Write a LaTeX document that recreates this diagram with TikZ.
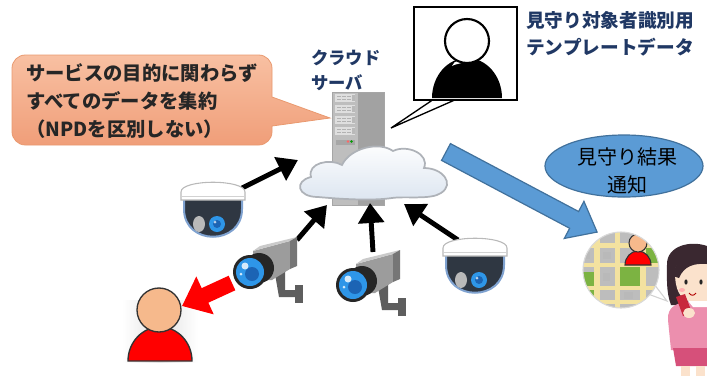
\documentclass[tikz,border=0pt]{standalone}
\usepackage{fontspec}
\newfontfamily\jp{Noto Sans CJK JP}
\usetikzlibrary{arrows.meta,shapes.geometric}

\definecolor{navy}{HTML}{203864}
\definecolor{inktext}{HTML}{262626}
\definecolor{calltop}{HTML}{F8C0A2}
\definecolor{callbot}{HTML}{F09E79}
\definecolor{callline}{HTML}{E9996F}
\definecolor{notice}{HTML}{5B9BD5}
\definecolor{noticeline}{HTML}{41719C}
\definecolor{srvfront}{HTML}{BEBEBE}
\definecolor{srvside}{HTML}{A2A2A2}
\definecolor{cloudline}{HTML}{AEB2B8}
\definecolor{cloudlow}{HTML}{DCE5F0}
\definecolor{domedark}{HTML}{2F3742}
\definecolor{domerim}{HTML}{7FA2D0}
\definecolor{lensblue}{HTML}{2E96E8}
\definecolor{lensdeep}{HTML}{1C64B4}
\definecolor{bodylight}{HTML}{CACACA}
\definecolor{bodymid}{HTML}{9C9C9C}
\definecolor{bodydark}{HTML}{767676}
\definecolor{barrel}{HTML}{262626}
\definecolor{mount}{HTML}{5E5E5E}
\definecolor{peach}{HTML}{F6B98C}
\definecolor{mapgray}{HTML}{BDBDBD}
\definecolor{mapgreen}{HTML}{7CB342}
\definecolor{road}{HTML}{F3E2A0}
\definecolor{hair}{HTML}{3A2830}
\definecolor{skin}{HTML}{FBE2CC}
\definecolor{sweater}{HTML}{EC8FAE}
\definecolor{skirt}{HTML}{D6507A}
\definecolor{phone}{HTML}{C8283C}

\tikzset{
  calltext/.style={font=\jp\bfseries\fontsize{14.5}{20.8}\selectfont, text=inktext, align=left, inner sep=0pt},
  labeltext/.style={font=\jp\bfseries\fontsize{14}{20.25}\selectfont, text=navy, align=left, inner sep=0pt},
  servertext/.style={font=\jp\bfseries\fontsize{13}{18.75}\selectfont, text=navy, align=left, inner sep=0pt},
  noticetext/.style={font=\jp\fontsize{15}{21}\selectfont, text=black, align=center, inner sep=0pt},
  feed/.style={line width=3.7pt, black, -{Triangle[width=19pt,length=15pt]}},
  alert/.style={line width=12pt, red, -{Triangle[width=30pt,length=19pt]}},
  domecam/.pic={
    % dome
    \path[fill=domedark, draw=domerim, line width=1.5pt]
      (-29,-12) -- (-29,0) .. controls (-29,37) and (29,37) .. (29,0) -- (29,-12) -- cycle;
    % lid
    \path[fill=white, draw=gray!55, line width=0.8pt]
      (-32,-9) -- (-32,-17) .. controls (-32,-30) and (32,-30) .. (32,-17) -- (32,-9) -- cycle;
    \draw[gray!35, line width=0.6pt] (-31,-13) -- (31,-13);
    \fill[gray!55] (-14,15) ellipse[x radius=6, y radius=8];
    \fill[lensblue] (4,15) circle[radius=8];
    \fill[lensdeep] (4,15) circle[radius=4];
    \fill[white, opacity=0.7] (2,13) circle[radius=1.5];
  },
  bulletcam/.pic={
    % wall mount
    \fill[mount] (45,13) rectangle (53,31);
    \fill[mount] (25,2) -- (35,-3) -- (35,18) -- (46,18) -- (46,25) -- (29,25) -- cycle;
    % housing
    \fill[bodymid] (3,-21) -- (40,-31) -- (40,-3) -- (22,8) -- (4,9) -- cycle;
    \fill[bodylight] (3,-21) -- (10,-26) -- (47,-35) -- (40,-31) -- cycle;
    \fill[bodydark] (40,-31) -- (47,-35) -- (47,-6) -- (40,-3) -- cycle;
    % lens barrel and glass
    \fill[barrel] (9,-4) circle[radius=15];
    \fill[barrel] (0,0) circle[radius=17];
    \fill[lensblue] (0,0) circle[radius=14];
    \fill[lensdeep] (2,2) circle[radius=7];
    \fill[white, opacity=0.8] (-5,-6) circle[radius=3.5];
    \fill[white, opacity=0.8] (-9,2) circle[radius=1.5];
  }
}

\begin{document}
\begin{tikzpicture}[x=0.75pt, y=-0.75pt]
\useasboundingbox (0,0) rectangle (707,376);
\fill[white] (0,0) rectangle (707,376);

% speech balloon on the left
\path[top color=calltop, bottom color=callbot, draw=callline, line width=0.6pt]
  [rounded corners=10pt] (140,55) -- (272,55) [sharp corners] -- (272,97) -- (330,118) -- (272,126)
  [rounded corners=10pt] -- (272,145) -- (12,145) -- (12,55) -- cycle;
\node[calltext, anchor=west] (reqtext) at (26,101)
  {サービスの目的に関わらず\\すべてのデータを集約\\（NPDを区別しない）};

% server label
\node[servertext, anchor=west] (srvlabel) at (311,70) {クラウド\\サーバ};

% server tower
\fill[srvside] (358,92) rectangle (384,205);
\fill[srvfront] (332,92) rectangle (358,205);
\draw[gray!70, line width=0.5pt] (332,92) rectangle (384,205);
\foreach \y in {94,105,116,127} {
  \fill[gray!25] (335,\y) rectangle (355,\y+8);
  \foreach \x in {337,342,347} \fill[gray!60] (\x,\y+2) rectangle (\x+4,\y+3.2);
  \foreach \x in {337,342,347} \fill[gray!60] (\x,\y+5) rectangle (\x+4,\y+6.2);
  \fill[gray!55] (352,\y+1) rectangle (354.5,\y+7);
}
\fill[gray!70] (336,140) rectangle (355,145);
\fill[red!60] (348,141.5) circle[radius=1.3];
\fill[green!60!black] (351.5,141.5) circle[radius=1.3];

% template image with its pointer
\filldraw[fill=white, draw=black, line width=1pt] (434,99) -- (391,128) -- (457,99);
\node[draw=black, line width=1.5pt, fill=white, minimum width=77.25pt, minimum height=69.75pt, inner sep=0pt]
  (template) at (465.5,53.5) {};
\fill[black] (432,98) arc[start angle=180, end angle=360, x radius=35, y radius=40] -- cycle;
\fill[white] (452,66) .. controls (454,60) and (462,59) .. (464,62) .. controls (460,64) and (455,64) .. cycle;
\draw[black, line width=1.6pt, fill=white] (467,41) circle[radius=22];
\node[labeltext, anchor=west] (tpllabel) at (526,34) {見守り対象者識別用\\テンプレートデータ};

% cloud
\path[top color=white, bottom color=cloudlow, draw=cloudline, line width=1.3pt]
  (318,197) .. controls (297,197) and (294,181) .. (311,177)
  .. controls (307,163) and (330,158) .. (342,165)
  .. controls (350,148) and (379,141) .. (393,151)
  .. controls (407,144) and (430,154) .. (424,168)
  .. controls (443,168) and (455,184) .. (441,193)
  .. controls (431,200) and (405,196) .. (392,198)
  .. controls (372,201) and (340,199) .. (318,197) -- cycle;
\coordinate (cloud) at (372,178);

% uploads from the cameras to the cloud
\coordinate (dome1top) at (242,188);
\coordinate (cloudW) at (298,160);
\coordinate (cam1top) at (297,240);
\coordinate (cloudSW) at (327,205);
\coordinate (cam2top) at (373,252);
\coordinate (cloudS) at (370,203);
\coordinate (dome2top) at (458,240);
\coordinate (cloudSE) at (404,204);
\draw[feed] (dome1top) -- (cloudW);
\draw[feed] (cam1top) -- (cloudSW);
\draw[feed] (cam2top) -- (cloudS);
\draw[feed] (dome2top) -- (cloudSE);

% cameras
\pic (dome1) at (213,209) {domecam};
\pic (dome2) at (475,265) {domecam};
\pic (cam1) at (250,272) {bulletcam};
\pic (cam2) at (353,285) {bulletcam};

% person being watched
\shade[left color=white, right color=white, middle color=gray!22] (122,300) rectangle (198,362);
\draw[fill=red, draw=black!80, line width=1pt]
  (128,361) arc[start angle=180, end angle=360, x radius=32, y radius=34] -- cycle;
\draw[fill=peach, draw=black!80, line width=1pt] (159,310) circle[radius=22];

% camera looking at the person
\coordinate (alertfrom) at (232,283);
\coordinate (alertto) at (182,306);
\draw[alert] (alertfrom) -- (alertto);

% notification arrow
\coordinate (notifyfrom) at (446,152);
\coordinate (notifyto) at (597,232);
\begin{scope}[shift={(notifyfrom)}, rotate=-27.92]
  \filldraw[fill=notice, draw=noticeline, line width=0.9pt]
    (0,-9.5) -- (145,-9.5) -- (145,-21) -- (171,0) -- (145,21) -- (145,9.5) -- (0,9.5) -- cycle;
\end{scope}

% notification label
\node[ellipse, fill=notice, draw=noticeline, line width=0.9pt, minimum width=118.5pt, minimum height=46.5pt, inner sep=0pt]
  (notice) at (624,166) {};
\node[noticetext] (noticelabel) at (627,171) {見守り結果\\通知};

% map balloon
\fill[white] (648,294) -- (667,301) -- (654,284) -- cycle;
\draw[gray!35, line width=0.8pt] (648,294) -- (667,301) -- (654,284);
\begin{scope}
  \clip (621,270) circle[radius=38];
  \fill[mapgray] (580,228) rectangle (662,312);
  \fill[mapgreen] (620,267) rectangle (640,286);
  \fill[mapgreen] (580,272) rectangle (594,300);
  \fill[mapgreen] (646,248) rectangle (662,263);
  \fill[gray!55] (603,252) rectangle (611,259);
  \fill[gray!55] (603,273) rectangle (610,281);
  \fill[gray!55] (624,292) rectangle (633,299);
  \fill[gray!55] (584,252) rectangle (590,259);
  \fill[gray!55] (650,292) rectangle (658,299);
  \fill[road] (594,228) rectangle (600,312);
  \fill[road] (615,228) rectangle (620,312);
  \fill[road] (640,228) rectangle (646,312);
  \fill[road] (580,243) rectangle (662,248);
  \fill[road] (580,263) rectangle (662,267);
  \fill[road] (580,286) rectangle (662,290);
  \fill[road] (580,300) rectangle (662,304);
  \draw[fill=red, draw=black!80, line width=0.8pt]
    (625,265) arc[start angle=180, end angle=360, x radius=13, y radius=14] -- cycle;
  \draw[fill=peach, draw=black!80, line width=0.8pt] (638,243) circle[radius=9];
\end{scope}
\draw[gray!30, line width=0.8pt] (621,270) circle[radius=38];

% person checking the phone
\fill[hair] (667,264) .. controls (667,246) and (690,240) .. (707,246) -- (707,305) -- (671,305)
  .. controls (666,292) and (667,278) .. (667,264) -- cycle;
\fill[sweater] (668,320) .. controls (667,306) and (678,302) .. (690,302) -- (707,302) -- (707,350) -- (671,350) -- cycle;
\fill[skin] (675,272) .. controls (675,259) and (690,257) .. (707,261) -- (707,301) -- (692,302)
  .. controls (680,300) and (675,290) .. (675,272) -- cycle;
\fill[hair] (673,276) .. controls (675,256) and (694,250) .. (707,254) -- (707,264)
  .. controls (694,263) and (684,266) .. (679,278) -- cycle;
\fill[black!85] (686,282) ellipse[x radius=1.6, y radius=2.6];
\fill[black!85] (701,282) ellipse[x radius=1.6, y radius=2.6];
\fill[red!30] (682,290) ellipse[x radius=3, y radius=2];
\draw[red!70!black, line width=0.7pt] (689,293) .. controls (691,296) and (694,296) .. (696,293);
\fill[white] (688,301) -- (707,301) -- (707,307) -- (693,307) -- cycle;
\fill[skirt] (673,348) -- (707,348) -- (707,366) -- (676,366) -- cycle;
\fill[skin] (681,366) rectangle (690,376);
\fill[skin] (696,366) rectangle (705,376);
\fill[phone] (676,297) -- (685,294) -- (692,313) -- (683,316) -- cycle;
\fill[skin] (689,313) ellipse[x radius=6, y radius=5];
\end{tikzpicture}
\end{document}
